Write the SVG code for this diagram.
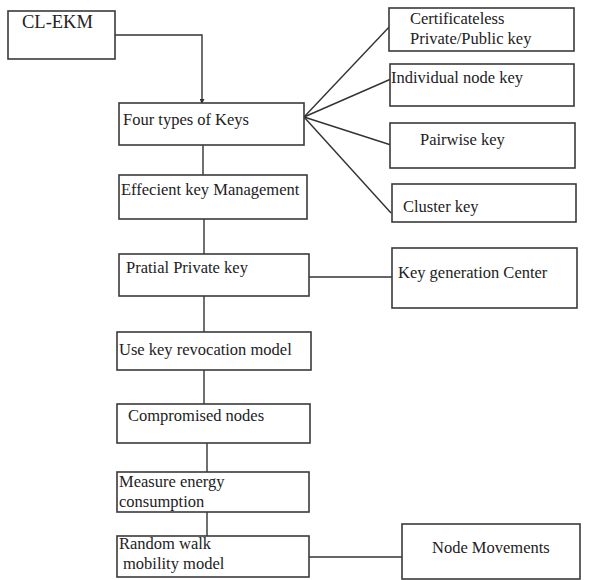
<svg xmlns="http://www.w3.org/2000/svg" width="599" height="580" viewBox="0 0 599 580">
<style>
rect{fill:#fff;stroke:#3a3a3a;stroke-width:1.6}
text{font-family:"Liberation Serif","Times New Roman",serif;font-size:16.5px;fill:#222}
.c line,.c polyline{stroke:#333;stroke-width:1.4;fill:none}
</style>
<defs>
<marker id="ah" markerWidth="5" markerHeight="5" refX="4" refY="2.5" orient="auto" markerUnits="userSpaceOnUse"><path d="M0,0 L5,2.5 L0,5 z" fill="#333"/></marker>
</defs>
<rect x="0" y="0" width="599" height="580" style="fill:#fff;stroke:none"/>
<g class="c" id="connectors">
<polyline points="115,35 202,35 202,103" marker-end="url(#ah)"/>
<line x1="203" y1="145" x2="203" y2="175"/>
<line x1="204" y1="219" x2="204" y2="254"/>
<line x1="309" y1="277" x2="392" y2="277"/>
<line x1="204" y1="296" x2="204" y2="332"/>
<line x1="204" y1="370" x2="204" y2="404"/>
<line x1="207" y1="443" x2="207" y2="472"/>
<line x1="207" y1="512" x2="207" y2="536"/>
<line x1="309" y1="557" x2="402" y2="557"/>
<line x1="304" y1="117" x2="391" y2="25"/>
<line x1="304" y1="117" x2="391" y2="79"/>
<line x1="304" y1="117" x2="391" y2="145"/>
<line x1="304" y1="117" x2="391" y2="213"/>
</g>
<g id="clekm"><rect x="8" y="11" width="107" height="48"/><text x="22" y="28" style="font-size:18.5px">CL-EKM</text></g>
<g id="four"><rect x="119" y="103" width="185" height="42"/><text x="123" y="125">Four types of Keys</text></g>
<g id="eff"><rect x="119" y="175" width="188" height="44"/><text x="121" y="195">Effecient key Management</text></g>
<g id="pratial"><rect x="119" y="254" width="190" height="42"/><text x="126" y="273">Pratial Private key</text></g>
<g id="kgc"><rect x="392" y="248" width="185" height="60"/><text x="398" y="278">Key generation Center</text></g>
<g id="revoc"><rect x="117" y="332" width="194" height="38"/><text x="119" y="355">Use key revocation model</text></g>
<g id="comp"><rect x="117" y="404" width="193" height="39"/><text x="128" y="421">Compromised nodes</text></g>
<g id="energy"><rect x="117" y="472" width="192" height="40"/><text x="119" y="487">Measure energy</text><text x="119" y="507">consumption</text></g>
<g id="random"><rect x="117" y="536" width="192" height="41"/><text x="119" y="549">Random walk</text><text x="123" y="569">mobility model</text></g>
<g id="move"><rect x="402" y="524" width="178" height="55"/><text x="432" y="553">Node Movements</text></g>
<g id="cert"><rect x="389" y="8" width="185" height="43"/><text x="410" y="24">Certificateless</text><text x="410" y="44">Private/Public key</text></g>
<g id="indiv"><rect x="390" y="64" width="184" height="42"/><text x="391" y="83">Individual node key</text></g>
<g id="pair"><rect x="390" y="123" width="185" height="45"/><text x="420" y="145">Pairwise key</text></g>
<g id="cluster"><rect x="392" y="184" width="184" height="38"/><text x="403" y="212">Cluster key</text></g>
</svg>
